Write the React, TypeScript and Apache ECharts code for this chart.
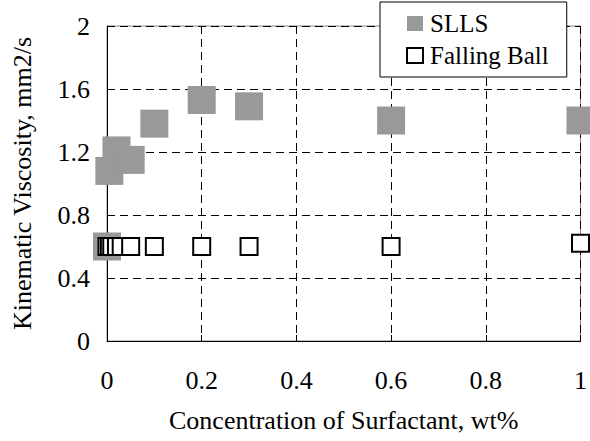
import React, { useEffect, useRef } from "react";
import * as echarts from "echarts";

const sllsX = [0, 0.005, 0.02, 0.05, 0.1, 0.2, 0.3, 0.6, 1.0];
const sllsY = [0.6, 1.08, 1.21, 1.15, 1.38, 1.53, 1.49, 1.4, 1.4];
const ballX = [0, 0.005, 0.01, 0.02, 0.03, 0.05, 0.1, 0.2, 0.3, 0.6, 1.0];
const ballY = [0.6, 0.6, 0.6, 0.6, 0.6, 0.6, 0.6, 0.6, 0.6, 0.6, 0.62];
const xTicks = [0, 0.2, 0.4, 0.6, 0.8, 1];
const yTicks = [0, 0.4, 0.8, 1.2, 1.6, 2];

const FONT = "'Liberation Serif', 'Times New Roman', serif";

export default function App() {
  const ref = useRef<HTMLDivElement>(null);
  useEffect(() => {
    document.body.style.margin = "0";
    const chart = echarts.init(ref.current!, null, { renderer: "svg" });
    const dash = { type: [8, 5] as any, color: "#000", width: 1 };
    const txt = (size: number) => ({ fontFamily: FONT, fontSize: size, color: "#000" });
    chart.setOption({
      animation: false,
      backgroundColor: "#fff",
      textStyle: txt(26),
      grid: {
        left: 107,
        right: 3,
        top: 26,
        bottom: 100,
        show: true,
        borderColor: "#888",
        borderWidth: 1,
      },
      legend: {
        orient: "vertical",
        left: 380,
        top: 2,
        backgroundColor: "#fff",
        borderColor: "#000",
        borderWidth: 1,
        padding: [9, 18, 9, 26],
        itemGap: 7,
        itemWidth: 16,
        itemHeight: 15,
        textStyle: { ...txt(25), padding: [0, 0, 0, 2] },
        data: [
          { name: "SLLS", icon: "rect", itemStyle: { color: "#999999", borderWidth: 0 } },
          {
            name: "Falling Ball",
            icon: "rect",
            itemStyle: { color: "#fff", borderColor: "#000", borderWidth: 2 },
          },
        ],
      },
      xAxis: {
        type: "value",
        min: xTicks[0],
        max: xTicks[xTicks.length - 1],
        interval: 0.2,
        name: "Concentration of Surfactant, wt%",
        nameLocation: "middle",
        nameGap: 66,
        nameTextStyle: txt(26),
        axisLine: { show: true, onZero: false, lineStyle: { color: "#000", width: 1 } },
        axisTick: { show: true, inside: true, length: 6, lineStyle: { color: "#000" } },
        axisLabel: { ...txt(26), margin: 26 },
        splitLine: { show: true, lineStyle: dash },
      },
      yAxis: {
        type: "value",
        min: yTicks[0],
        max: yTicks[yTicks.length - 1],
        interval: 0.4,
        name: "Kinematic Viscosity, mm2/s",
        nameLocation: "middle",
        nameGap: 72,
        nameTextStyle: txt(26),
        axisLine: { show: true, onZero: false, lineStyle: { color: "#000", width: 1 } },
        axisTick: { show: true, inside: true, length: 6, lineStyle: { color: "#000" } },
        axisLabel: { ...txt(26), margin: 17 },
        splitLine: { show: true, lineStyle: dash },
      },
      series: [
        {
          name: "SLLS",
          type: "scatter",
          symbol: "rect",
          symbolSize: 28,
          clip: false,
          itemStyle: { color: "#999999", opacity: 1 },
          data: sllsX.map((x, i) => [x, sllsY[i]]),
        },
        {
          name: "Falling Ball",
          type: "scatter",
          symbol: "rect",
          symbolSize: 17,
          clip: false,
          itemStyle: { color: "#fff", borderColor: "#000", borderWidth: 2, opacity: 1 },
          data: ballX.map((x, i) => [x, ballY[i]]),
        },
      ],
    });
    return () => chart.dispose();
  }, []);
  return <div ref={ref} style={{ width: 590, height: 441 }} />;
}
